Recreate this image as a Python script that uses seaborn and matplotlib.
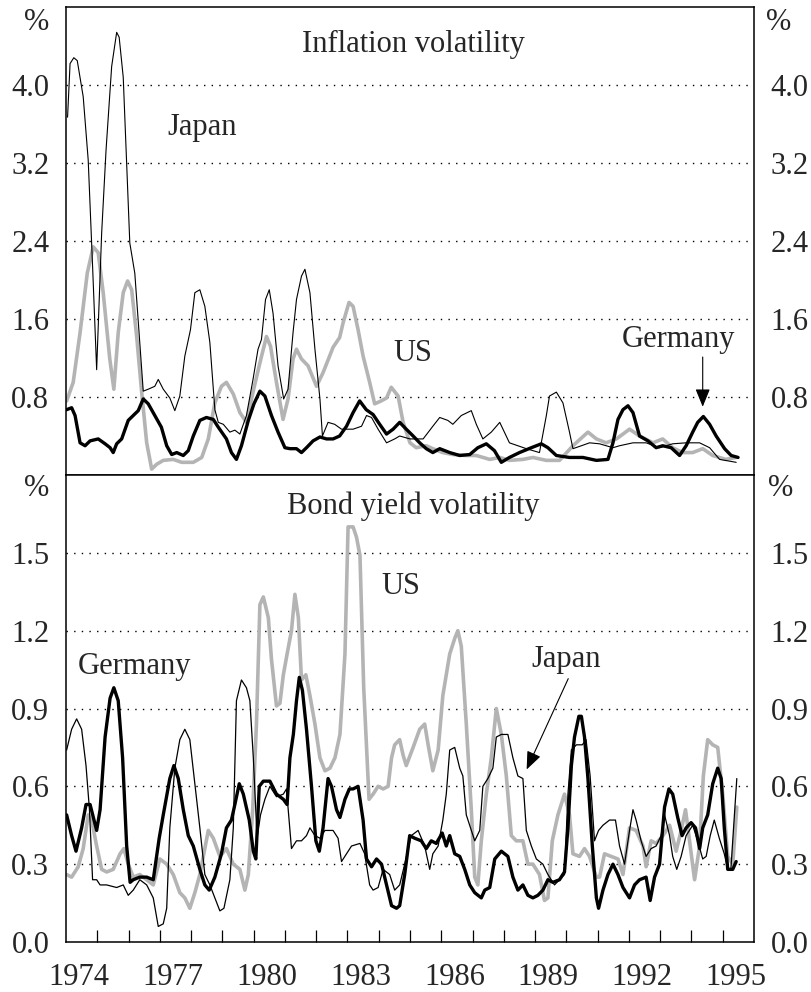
import numpy as np
import pandas as pd
import matplotlib
matplotlib.use("Agg")
import matplotlib.pyplot as plt
import seaborn as sns

# ---------------- data ----------------
# Inflation volatility (top panel)
jp_inf_x = [1974.05, 1974.13, 1974.25, 1974.36, 1974.55, 1974.71, 1974.85, 1974.98, 1975.14, 1975.28,
            1975.46, 1975.62, 1975.70, 1975.83, 1976.04, 1976.20, 1976.47, 1976.63, 1976.84, 1976.95,
            1977.11, 1977.32, 1977.48, 1977.64, 1977.80, 1977.98, 1978.12, 1978.28, 1978.44, 1978.60,
            1978.76, 1978.87, 1979.03, 1979.24, 1979.40, 1979.56, 1979.77, 1979.98, 1980.14, 1980.25,
            1980.38, 1980.50, 1980.62, 1980.78, 1980.96, 1981.10, 1981.26, 1981.37, 1981.53, 1981.64,
            1981.80, 1981.96, 1982.12, 1982.20, 1982.38, 1982.59, 1982.81, 1982.97, 1983.18, 1983.45,
            1983.61, 1983.77, 1983.98, 1984.25, 1984.51, 1984.67, 1985.00, 1985.42, 1985.73, 1985.95,
            1986.21, 1986.37, 1986.64, 1986.96, 1987.12, 1987.33, 1987.60, 1987.87, 1988.18, 1988.72,
            1989.14, 1989.36, 1989.46, 1989.68, 1989.89, 1990.10, 1990.21, 1990.48, 1990.74, 1991.06,
            1991.49, 1991.70, 1992.13, 1992.55, 1992.98, 1993.40, 1993.83, 1994.26, 1994.58, 1994.90,
            1995.43]
jp_inf_y = [3.67, 4.22, 4.28, 4.25, 3.88, 3.23, 2.14, 1.08, 2.48, 3.33,
            4.19, 4.54, 4.49, 4.08, 2.38, 2.07, 0.86, 0.88, 0.91, 0.98,
            0.88, 0.79, 0.66, 0.81, 1.22, 1.49, 1.87, 1.90, 1.73, 1.36,
            0.67, 0.54, 0.52, 0.44, 0.46, 0.42, 0.61, 0.98, 1.29, 1.39,
            1.80, 1.90, 1.66, 1.12, 0.78, 0.88, 1.46, 1.80, 2.04, 2.11,
            1.87, 1.29, 0.78, 0.40, 0.54, 0.52, 0.47, 0.47, 0.47, 0.50,
            0.61, 0.59, 0.47, 0.33, 0.37, 0.40, 0.37, 0.37, 0.50, 0.59,
            0.56, 0.52, 0.61, 0.66, 0.52, 0.37, 0.44, 0.54, 0.33, 0.27,
            0.23, 0.61, 0.81, 0.85, 0.74, 0.44, 0.27, 0.30, 0.33, 0.32,
            0.28, 0.30, 0.33, 0.33, 0.28, 0.32, 0.33, 0.33, 0.28, 0.16,
            0.13]

us_inf_x = [1974.02, 1974.23, 1974.45, 1974.68, 1974.87, 1975.03, 1975.19, 1975.40, 1975.53, 1975.67,
            1975.83, 1975.97, 1976.10, 1976.26, 1976.42, 1976.58, 1976.74, 1976.90, 1977.11, 1977.43,
            1977.70, 1978.07, 1978.34, 1978.55, 1978.76, 1978.97, 1979.13, 1979.35, 1979.56, 1979.77,
            1979.98, 1980.20, 1980.41, 1980.54, 1980.73, 1980.94, 1981.10, 1981.26, 1981.37, 1981.53,
            1981.74, 1982.01, 1982.22, 1982.43, 1982.54, 1982.75, 1982.86, 1983.05, 1983.18, 1983.34,
            1983.50, 1983.71, 1983.87, 1984.08, 1984.25, 1984.40, 1984.62, 1984.78, 1985.00, 1985.20,
            1985.52, 1985.73, 1986.05, 1986.37, 1986.80, 1987.12, 1987.55, 1987.87, 1988.18, 1988.61,
            1988.93, 1989.36, 1989.78, 1990.21, 1990.69, 1990.96, 1991.27, 1991.60, 1992.02, 1992.34,
            1992.77, 1993.08, 1993.40, 1993.72, 1994.04, 1994.36, 1994.68, 1995.10, 1995.43]
us_inf_y = [0.76, 0.95, 1.46, 2.07, 2.34, 2.28, 1.87, 1.19, 0.88, 1.46,
            1.87, 1.99, 1.90, 1.42, 0.85, 0.33, 0.06, 0.11, 0.15, 0.16,
            0.13, 0.13, 0.18, 0.37, 0.74, 0.91, 0.95, 0.83, 0.64, 0.54,
            0.85, 1.15, 1.42, 1.32, 0.95, 0.57, 0.78, 1.19, 1.29, 1.19,
            1.12, 0.91, 1.05, 1.22, 1.31, 1.41, 1.56, 1.77, 1.73, 1.49,
            1.22, 0.95, 0.73, 0.76, 0.79, 0.90, 0.81, 0.54, 0.33, 0.28,
            0.30, 0.27, 0.23, 0.21, 0.20, 0.20, 0.16, 0.18, 0.15, 0.16,
            0.18, 0.15, 0.15, 0.30, 0.44, 0.37, 0.33, 0.37, 0.47, 0.40,
            0.33, 0.37, 0.28, 0.23, 0.23, 0.27, 0.20, 0.16, 0.18]

de_inf_x = [1974.02, 1974.18, 1974.29, 1974.45, 1974.61, 1974.77, 1975.03, 1975.25, 1975.41, 1975.51,
            1975.62, 1975.78, 1975.99, 1976.15, 1976.31, 1976.47, 1976.63, 1976.84, 1977.05, 1977.22,
            1977.38, 1977.54, 1977.75, 1977.91, 1978.07, 1978.28, 1978.49, 1978.71, 1978.87, 1979.13,
            1979.29, 1979.45, 1979.61, 1979.83, 1980.01, 1980.20, 1980.36, 1980.57, 1980.78, 1981.00,
            1981.16, 1981.37, 1981.53, 1981.69, 1981.90, 1982.12, 1982.33, 1982.54, 1982.75, 1982.97,
            1983.18, 1983.39, 1983.60, 1983.82, 1984.03, 1984.25, 1984.46, 1984.67, 1984.88, 1985.10,
            1985.31, 1985.52, 1985.73, 1985.95, 1986.27, 1986.59, 1986.91, 1987.17, 1987.44, 1987.70,
            1987.92, 1988.18, 1988.50, 1988.88, 1989.20, 1989.41, 1989.68, 1990.10, 1990.53, 1990.96,
            1991.33, 1991.49, 1991.65, 1991.81, 1991.97, 1992.13, 1992.34, 1992.61, 1992.87, 1993.08,
            1993.35, 1993.62, 1993.83, 1994.04, 1994.20, 1994.38, 1994.58, 1994.79, 1995.06, 1995.27,
            1995.49]
de_inf_y = [0.67, 0.69, 0.61, 0.33, 0.30, 0.35, 0.37, 0.32, 0.28, 0.23,
            0.32, 0.37, 0.56, 0.61, 0.66, 0.78, 0.73, 0.61, 0.49, 0.30,
            0.21, 0.23, 0.20, 0.25, 0.40, 0.56, 0.59, 0.57, 0.49, 0.37,
            0.23, 0.16, 0.30, 0.56, 0.73, 0.86, 0.81, 0.61, 0.44, 0.28,
            0.27, 0.27, 0.23, 0.28, 0.35, 0.39, 0.37, 0.37, 0.40, 0.50,
            0.64, 0.76, 0.67, 0.62, 0.52, 0.42, 0.47, 0.54, 0.47, 0.40,
            0.33, 0.27, 0.23, 0.27, 0.23, 0.20, 0.21, 0.28, 0.32, 0.25,
            0.13, 0.18, 0.23, 0.28, 0.32, 0.28, 0.20, 0.18, 0.18, 0.15,
            0.16, 0.33, 0.57, 0.67, 0.71, 0.64, 0.40, 0.35, 0.28, 0.30,
            0.28, 0.20, 0.30, 0.44, 0.54, 0.60, 0.52, 0.40, 0.27, 0.20,
            0.18]

# Bond yield volatility (bottom panel)
us_bond_x = [1974.02, 1974.18, 1974.39, 1974.55, 1974.71, 1974.82, 1974.98, 1975.14, 1975.30, 1975.51,
             1975.73, 1975.85, 1975.99, 1976.15, 1976.36, 1976.58, 1976.79, 1977.00, 1977.22, 1977.43,
             1977.64, 1977.80, 1977.96, 1978.12, 1978.28, 1978.55, 1978.71, 1978.92, 1979.13, 1979.35,
             1979.56, 1979.72, 1979.83, 1979.97, 1980.09, 1980.20, 1980.31, 1980.47, 1980.57, 1980.73,
             1980.84, 1980.95, 1981.07, 1981.21, 1981.32, 1981.43, 1981.53, 1981.67, 1981.80, 1981.96,
             1982.12, 1982.28, 1982.44, 1982.60, 1982.76, 1982.92, 1983.02, 1983.18, 1983.29, 1983.40,
             1983.52, 1983.69, 1983.82, 1983.98, 1984.14, 1984.30, 1984.41, 1984.51, 1984.67, 1984.78,
             1984.88, 1985.10, 1985.31, 1985.47, 1985.58, 1985.73, 1985.90, 1986.05, 1986.27, 1986.43,
             1986.53, 1986.64, 1986.80, 1986.96, 1987.07, 1987.17, 1987.28, 1987.44, 1987.60, 1987.76,
             1987.92, 1988.08, 1988.24, 1988.40, 1988.61, 1988.77, 1988.93, 1989.14, 1989.30, 1989.41,
             1989.55, 1989.73, 1989.94, 1990.10, 1990.21, 1990.42, 1990.58, 1990.74, 1990.96, 1991.06,
             1991.22, 1991.43, 1991.65, 1991.81, 1992.02, 1992.23, 1992.45, 1992.55, 1992.71, 1992.87,
             1993.09, 1993.30, 1993.51, 1993.67, 1993.81, 1993.94, 1994.10, 1994.26, 1994.38, 1994.52,
             1994.68, 1994.84, 1995.00, 1995.16, 1995.32, 1995.45]
us_bond_y = [0.26, 0.25, 0.29, 0.36, 0.49, 0.47, 0.37, 0.28, 0.27, 0.28,
             0.34, 0.36, 0.30, 0.25, 0.26, 0.24, 0.22, 0.32, 0.30, 0.26,
             0.19, 0.17, 0.13, 0.19, 0.26, 0.43, 0.40, 0.33, 0.36, 0.30,
             0.28, 0.20, 0.26, 0.51, 0.84, 1.30, 1.33, 1.25, 1.09, 0.91,
             0.92, 1.03, 1.11, 1.20, 1.34, 1.25, 1.01, 1.03, 0.95, 0.84,
             0.71, 0.66, 0.67, 0.71, 0.80, 1.11, 1.60, 1.60, 1.56, 1.49,
             0.98, 0.55, 0.57, 0.60, 0.59, 0.60, 0.71, 0.76, 0.78, 0.72,
             0.68, 0.75, 0.82, 0.84, 0.76, 0.66, 0.74, 0.95, 1.11, 1.17,
             1.20, 1.14, 0.84, 0.51, 0.25, 0.22, 0.39, 0.57, 0.71, 0.90,
             0.80, 0.64, 0.41, 0.39, 0.39, 0.30, 0.30, 0.26, 0.16, 0.17,
             0.39, 0.49, 0.57, 0.49, 0.34, 0.33, 0.36, 0.33, 0.25, 0.25,
             0.34, 0.33, 0.32, 0.26, 0.44, 0.43, 0.37, 0.29, 0.39, 0.38,
             0.41, 0.45, 0.35, 0.43, 0.51, 0.39, 0.24, 0.37, 0.64, 0.78,
             0.76, 0.75, 0.57, 0.33, 0.30, 0.52]

de_bond_x = [1974.02, 1974.18, 1974.32, 1974.50, 1974.64, 1974.77, 1974.98, 1975.09, 1975.25, 1975.41,
             1975.53, 1975.67, 1975.81, 1975.94, 1976.05, 1976.15, 1976.36, 1976.58, 1976.79, 1976.98,
             1977.11, 1977.32, 1977.45, 1977.59, 1977.75, 1977.91, 1978.07, 1978.28, 1978.44, 1978.58,
             1978.76, 1978.97, 1979.13, 1979.29, 1979.40, 1979.54, 1979.67, 1979.86, 1979.99, 1980.07,
             1980.18, 1980.31, 1980.52, 1980.73, 1980.95, 1981.07, 1981.16, 1981.27, 1981.37, 1981.46,
             1981.56, 1981.69, 1981.85, 1981.99, 1982.10, 1982.22, 1982.38, 1982.49, 1982.65, 1982.76,
             1982.92, 1983.06, 1983.18, 1983.34, 1983.50, 1983.61, 1983.77, 1983.93, 1984.09, 1984.25,
             1984.41, 1984.57, 1984.67, 1984.83, 1984.99, 1985.15, 1985.36, 1985.52, 1985.68, 1985.84,
             1986.03, 1986.16, 1986.27, 1986.43, 1986.59, 1986.75, 1986.91, 1987.07, 1987.28, 1987.39,
             1987.55, 1987.71, 1987.92, 1988.13, 1988.29, 1988.45, 1988.61, 1988.77, 1988.93, 1989.09,
             1989.25, 1989.41, 1989.57, 1989.78, 1989.94, 1990.05, 1990.16, 1990.26, 1990.40, 1990.48,
             1990.58, 1990.69, 1990.83, 1990.96, 1991.03, 1991.17, 1991.33, 1991.49, 1991.65, 1991.81,
             1992.02, 1992.18, 1992.34, 1992.55, 1992.68, 1992.82, 1992.98, 1993.14, 1993.28, 1993.40,
             1993.56, 1993.70, 1993.83, 1993.99, 1994.13, 1994.26, 1994.36, 1994.52, 1994.68, 1994.84,
             1994.95, 1995.05, 1995.16, 1995.32, 1995.43]
de_bond_y = [0.49, 0.41, 0.35, 0.44, 0.53, 0.53, 0.43, 0.51, 0.79, 0.94,
             0.98, 0.93, 0.71, 0.37, 0.23, 0.24, 0.25, 0.25, 0.24, 0.40,
             0.49, 0.63, 0.68, 0.63, 0.51, 0.41, 0.37, 0.28, 0.22, 0.20,
             0.25, 0.34, 0.44, 0.47, 0.53, 0.61, 0.57, 0.47, 0.35, 0.32,
             0.60, 0.62, 0.62, 0.57, 0.55, 0.53, 0.71, 0.80, 0.93, 1.02,
             0.97, 0.82, 0.60, 0.39, 0.35, 0.44, 0.63, 0.60, 0.51, 0.48,
             0.55, 0.59, 0.59, 0.60, 0.47, 0.32, 0.29, 0.32, 0.30, 0.22,
             0.14, 0.13, 0.14, 0.26, 0.41, 0.40, 0.39, 0.36, 0.39, 0.38,
             0.42, 0.37, 0.41, 0.34, 0.33, 0.28, 0.22, 0.19, 0.17, 0.20,
             0.21, 0.32, 0.35, 0.33, 0.25, 0.20, 0.22, 0.18, 0.17, 0.18,
             0.20, 0.24, 0.23, 0.24, 0.27, 0.44, 0.68, 0.79, 0.87, 0.87,
             0.79, 0.63, 0.37, 0.17, 0.13, 0.20, 0.26, 0.30, 0.26, 0.21,
             0.17, 0.22, 0.24, 0.25, 0.16, 0.25, 0.30, 0.52, 0.59, 0.57,
             0.48, 0.41, 0.44, 0.46, 0.44, 0.36, 0.44, 0.49, 0.61, 0.67,
             0.63, 0.44, 0.28, 0.28, 0.31]

jp_bond_x = [1974.02, 1974.18, 1974.34, 1974.50, 1974.64, 1974.75, 1974.85, 1974.98, 1975.09, 1975.30,
             1975.62, 1975.83, 1975.99, 1976.15, 1976.36, 1976.58, 1976.79, 1976.95, 1977.11, 1977.22,
             1977.32, 1977.48, 1977.64, 1977.80, 1977.96, 1978.12, 1978.28, 1978.44, 1978.60, 1978.76,
             1978.92, 1979.05, 1979.24, 1979.35, 1979.45, 1979.61, 1979.77, 1979.88, 1979.99, 1980.11,
             1980.22, 1980.36, 1980.52, 1980.73, 1980.95, 1981.05, 1981.21, 1981.37, 1981.53, 1981.69,
             1981.80, 1981.96, 1982.12, 1982.28, 1982.54, 1982.70, 1982.81, 1982.97, 1983.13, 1983.40,
             1983.55, 1983.71, 1983.82, 1983.98, 1984.14, 1984.35, 1984.51, 1984.67, 1984.83, 1985.04,
             1985.26, 1985.47, 1985.63, 1985.73, 1985.90, 1986.05, 1986.16, 1986.27, 1986.43, 1986.59,
             1986.69, 1986.80, 1986.96, 1987.07, 1987.23, 1987.33, 1987.49, 1987.65, 1987.76, 1987.92,
             1988.13, 1988.29, 1988.45, 1988.61, 1988.72, 1988.88, 1989.04, 1989.25, 1989.41, 1989.62,
             1989.78, 1989.94, 1990.05, 1990.16, 1990.32, 1990.51, 1990.63, 1990.76, 1990.90, 1991.03,
             1991.17, 1991.38, 1991.57, 1991.70, 1991.86, 1992.02, 1992.13, 1992.23, 1992.39, 1992.55,
             1992.71, 1992.87, 1993.03, 1993.14, 1993.30, 1993.40, 1993.53, 1993.67, 1993.83, 1994.04,
             1994.20, 1994.36, 1994.47, 1994.60, 1994.73, 1994.89, 1995.05, 1995.16, 1995.26, 1995.45]
jp_bond_y = [0.74, 0.82, 0.86, 0.82, 0.68, 0.51, 0.24, 0.24, 0.22, 0.22,
             0.21, 0.22, 0.18, 0.20, 0.24, 0.22, 0.17, 0.06, 0.07, 0.13,
             0.44, 0.67, 0.78, 0.82, 0.78, 0.61, 0.44, 0.26, 0.22, 0.17,
             0.12, 0.13, 0.24, 0.44, 0.93, 1.01, 0.98, 0.93, 0.71, 0.40,
             0.49, 0.55, 0.60, 0.56, 0.57, 0.59, 0.36, 0.39, 0.39, 0.41,
             0.44, 0.41, 0.40, 0.43, 0.43, 0.40, 0.31, 0.34, 0.37, 0.38,
             0.34, 0.22, 0.20, 0.21, 0.28, 0.26, 0.20, 0.22, 0.30, 0.41,
             0.43, 0.37, 0.28, 0.34, 0.37, 0.47, 0.57, 0.74, 0.75, 0.67,
             0.64, 0.49, 0.43, 0.39, 0.43, 0.60, 0.63, 0.67, 0.79, 0.80,
             0.80, 0.71, 0.64, 0.63, 0.43, 0.37, 0.32, 0.30, 0.26, 0.22,
             0.24, 0.26, 0.57, 0.74, 0.76, 0.76, 0.78, 0.64, 0.39, 0.43,
             0.45, 0.47, 0.47, 0.37, 0.30, 0.43, 0.51, 0.47, 0.39, 0.33,
             0.36, 0.37, 0.41, 0.49, 0.41, 0.33, 0.28, 0.33, 0.41, 0.45,
             0.39, 0.32, 0.33, 0.41, 0.47, 0.40, 0.34, 0.28, 0.28, 0.63]

# axis labels
year_labels = [1974, 1977, 1980, 1983, 1986, 1989, 1992, 1995]
top_yticks = [0.8, 1.6, 2.4, 3.2, 4.0]
bot_yticks = [0.0, 0.3, 0.6, 0.9, 1.2, 1.5]

# ---------------- style ----------------
sns.set_theme(style="white")
plt.rcParams["font.family"] = ["Liberation Serif", "DejaVu Serif"]
plt.rcParams["axes.linewidth"] = 1.1
FS = 22

GREY = "#b4b4b4"
BLACK = "#000000"

fig = plt.figure(figsize=(8.12, 9.92), dpi=100)
ax_top = fig.add_axes([66 / 812, 517 / 992, 688 / 812, 468 / 992])
ax_bot = fig.add_axes([66 / 812, 50 / 992, 688 / 812, 467 / 992])


def draw(ax, x, y, color, lw):
    df = pd.DataFrame({"year": x, "value": y})
    sns.lineplot(data=df, x="year", y="value", ax=ax, color=color, linewidth=lw,
                 estimator=None, sort=True, legend=False)


# top panel
draw(ax_top, us_inf_x, us_inf_y, GREY, 2.6)
draw(ax_top, jp_inf_x, jp_inf_y, BLACK, 0.8)
draw(ax_top, de_inf_x, de_inf_y, BLACK, 2.4)

# bottom panel
draw(ax_bot, us_bond_x, us_bond_y, GREY, 2.6)
draw(ax_bot, jp_bond_x, jp_bond_y, BLACK, 0.9)
draw(ax_bot, de_bond_x, de_bond_y, BLACK, 2.4)

for ax, ticks, ylim in ((ax_top, top_yticks, (0, 4.8)), (ax_bot, bot_yticks, (0, 1.8))):
    ax.set_xlim(1974, 1996)
    ax.set_ylim(*ylim)
    ax.set_xlabel("")
    ax.set_ylabel("")
    ax.set_yticks(ticks)
    ax.set_yticklabels([f"{t:.1f}" for t in ticks])
    ax.tick_params(axis="y", which="both", length=0, labelsize=FS,
                   left=False, right=False, labelleft=True, labelright=True, pad=12)
    for t in ticks:
        if t > 0:
            ax.axhline(t, color="black", lw=1.0, ls=(0, (1, 4.5)), zorder=0.5)
    for s in ax.spines.values():
        s.set_color("black")
        s.set_linewidth(1.1)
    ax.grid(False)

# x axis ticks
ax_top.set_xticks([])
ax_bot.set_xticks(list(range(1975, 1996)))
ax_bot.set_xticklabels([""] * 21)
ax_bot.tick_params(axis="x", which="major", direction="in", length=8.5, width=0.9,
                   color="black", bottom=True, top=False)
ax_bot.set_xticks([y + 0.42 for y in year_labels], minor=True)
ax_bot.set_xticklabels([str(y) for y in year_labels], minor=True)
ax_bot.tick_params(axis="x", which="minor", length=0, labelsize=FS, pad=15)

# percent signs
fig.text(37 / 812, 1 - 23 / 992, "%", ha="center", va="center", fontsize=FS)
fig.text(779 / 812, 1 - 23 / 992, "%", ha="center", va="center", fontsize=FS)
fig.text(37 / 812, 1 - 488 / 992, "%", ha="center", va="center", fontsize=FS)
fig.text(781 / 812, 1 - 488 / 992, "%", ha="center", va="center", fontsize=FS)

# titles and series labels
ax_top.text(1985.1, 4.42, "Inflation volatility", ha="center", va="center", fontsize=FS)
ax_top.text(1978.35, 3.56, "Japan", ha="center", va="center", fontsize=FS)
ax_top.text(1985.1, 1.25, "US", ha="center", va="center", fontsize=FS)
ax_top.text(1993.6, 1.39, "Germany", ha="center", va="center", fontsize=FS)
ax_top.annotate("", xy=(1994.36, 0.70), xytext=(1994.36, 1.21),
                arrowprops=dict(arrowstyle="-|>,head_length=1.1,head_width=0.45",
                                color="black", lw=0.8, mutation_scale=10,
                                shrinkA=0, shrinkB=0))

ax_bot.text(1985.1, 1.68, "Bond yield volatility", ha="center", va="center", fontsize=FS)
ax_bot.text(1984.7, 1.37, "US", ha="center", va="center", fontsize=FS)
ax_bot.text(1976.2, 1.06, "Germany", ha="center", va="center", fontsize=FS)
ax_bot.text(1990.0, 1.09, "Japan", ha="center", va="center", fontsize=FS)
ax_bot.annotate("", xy=(1988.73, 0.665), xytext=(1990.06, 1.015),
                arrowprops=dict(arrowstyle="-|>,head_length=1.1,head_width=0.45",
                                color="black", lw=0.8, mutation_scale=10,
                                shrinkA=0, shrinkB=0))

fig.savefig("out.png", dpi=100, facecolor="white")
